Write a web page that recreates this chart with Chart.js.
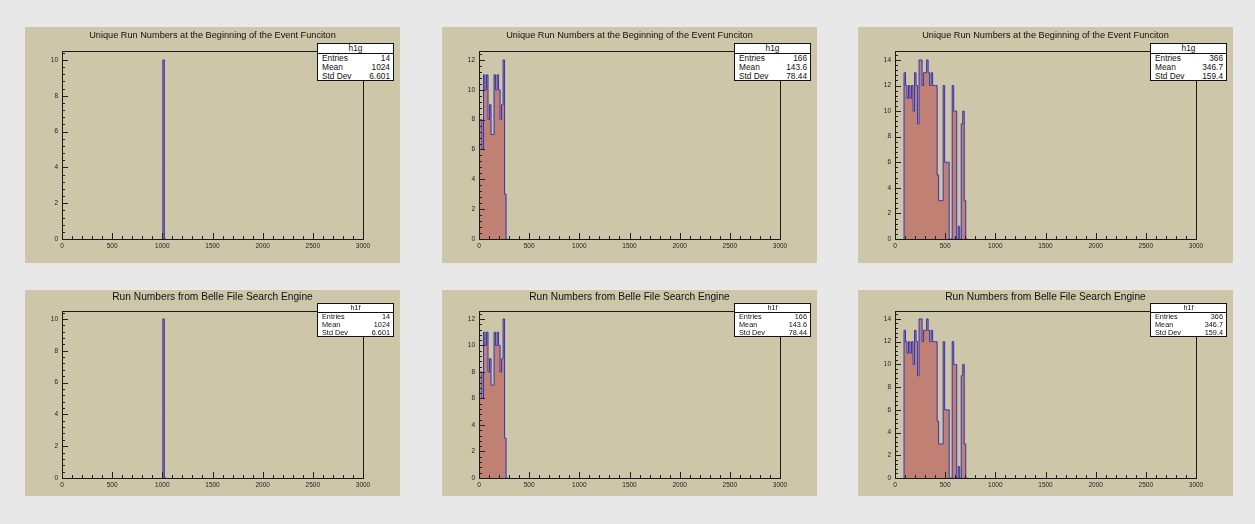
<!DOCTYPE html>
<html>
<head>
<meta charset="utf-8">
<script src="https://cdn.jsdelivr.net/npm/chart.js@4.4.0/dist/chart.umd.min.js"></script>
<style>
  body { margin: 0; width: 1255px; height: 524px; background: #e8e8e8; position: relative; overflow: hidden;
         font-family: 'Liberation Sans', Arial, sans-serif; }
  .pad { position: absolute; background: #cdc6a9; }
  .pad canvas { position: absolute; left: 0; top: 0; }
  .title { position: absolute; text-align: center; color: #111; white-space: nowrap; }
  .stats { position: absolute; background: #fff; border: 1px solid #111; box-sizing: border-box; color: #111; overflow: hidden; }
  .stats .head { text-align: center; border-bottom: 1px solid #111; }
  .stats .row { display: flex; justify-content: space-between; padding: 0 3px 0 4px; }
</style>
</head>
<body>
<script>
// Histogram data, bins of 15 run numbers on 0..3000

const binWidth = 15;
const xMin = 0;
const xMax = 3000;
const xTickStep = 500;
const yTickStep = 2;

// first bin index and bin contents for each column
const runs1Start = 67;
const runs1Counts = [4, 10];

const runs2Start = 0;
const runs2Counts = [7, 8, 8, 6, 11, 10, 11, 8, 9, 7, 7, 11, 10, 11, 10, 8, 9, 12, 3];

const runs3Start = 6;
const runs3Counts = [3, 13, 12, 11, 12, 11, 12, 10, 13, 12, 9, 14, 14, 12, 13, 13, 14, 13, 12, 13, 12,
  12, 12, 5, 3, 3, 3, 12, 6, 6, 6, 0, 0, 12, 10, 10, 0, 1, 0, 9, 10, 3];

const yMaxes = [10.5, 12.6, 14.7];

// stats box texts
const statEntries = ['14', '166', '366'];
const statMeans = ['1024', '143.6', '346.7'];
const statStdDevs = ['6.601', '78.44', '159.4'];

const rowTitles = ['Unique Run Numbers at the Beginning of the Event Funciton', 'Run Numbers from Belle File Search Engine'];
const rowHistNames = ['h1g', 'h1f'];

const columns = [
  { start: runs1Start, counts: runs1Counts },
  { start: runs2Start, counts: runs2Counts },
  { start: runs3Start, counts: runs3Counts },
];

// panel layout
const padLefts = [25, 442, 858];
const padWidth = 375;
const rowsLayout = [
  { top: 27, height: 236, plotTop: 24, plotHeight: 188, titleSize: 9.2, titleTop: 3, statTop: 16, statHeight: 38, statFont: 8.3, statHead: 9, statLine: 9 },
  { top: 290, height: 206, plotTop: 21, plotHeight: 167, titleSize: 10.2, titleTop: 1, statTop: 13, statHeight: 34, statFont: 7.3, statHead: 8, statLine: 8.2 },
];
const plotLeft = 37;
const plotWidth = 301;

// turn bin contents into step points for a stepped line
function histPoints(start, counts) {
  let points = [{ x: start * binWidth, y: 0 }];
  counts.forEach(function(c, i) {
    points.push({ x: (start + i) * binWidth, y: c });
  });
  points.push({ x: (start + counts.length) * binWidth, y: 0 });
  return points;
}

// ROOT style inward ticks and frame
const rootAxes = {
  id: 'rootAxes',
  afterDatasetsDraw(chart) {
    const ctx = chart.ctx;
    const a = chart.chartArea;
    const x = chart.scales.x;
    const y = chart.scales.y;
    ctx.save();
    ctx.strokeStyle = '#222';
    ctx.lineWidth = 1;
    ctx.beginPath();
    for (let v = xMin; v <= xMax; v += 100) {
      const px = Math.round(x.getPixelForValue(v)) + 0.5;
      const len = v % xTickStep === 0 ? 6 : 3;
      ctx.moveTo(px, a.bottom);
      ctx.lineTo(px, a.bottom - len);
    }
    for (let k = 0; k * 0.4 <= y.max; k++) {
      const py = Math.round(y.getPixelForValue(k * 0.4)) + 0.5;
      const len = k % 5 === 0 ? 6 : 3;
      ctx.moveTo(a.left, py);
      ctx.lineTo(a.left + len, py);
    }
    ctx.stroke();
    ctx.strokeStyle = '#1a1a1a';
    ctx.strokeRect(Math.round(a.left) + 0.5, Math.round(a.top) + 0.5, Math.round(a.right - a.left), Math.round(a.bottom - a.top));
    ctx.restore();
  }
};

function makePanel(row, col) {
  const r = rowsLayout[row];
  const c = columns[col];

  let pad = document.createElement('div');
  pad.className = 'pad';
  pad.style.left = padLefts[col] + 'px';
  pad.style.top = r.top + 'px';
  pad.style.width = padWidth + 'px';
  pad.style.height = r.height + 'px';
  document.body.appendChild(pad);

  let canvas = document.createElement('canvas');
  canvas.width = padWidth;
  canvas.height = r.height;
  pad.appendChild(canvas);

  let title = document.createElement('div');
  title.className = 'title';
  title.style.left = plotLeft + 'px';
  title.style.width = plotWidth + 'px';
  title.style.top = r.titleTop + 'px';
  title.style.fontSize = r.titleSize + 'px';
  title.textContent = rowTitles[row];
  pad.appendChild(title);

  let stats = document.createElement('div');
  stats.className = 'stats';
  stats.style.left = '292px';
  stats.style.top = r.statTop + 'px';
  stats.style.width = '77px';
  stats.style.height = r.statHeight + 'px';
  stats.style.fontSize = r.statFont + 'px';
  stats.style.lineHeight = r.statLine + 'px';
  stats.innerHTML = '<div class="head" style="line-height:' + r.statHead + 'px">' + rowHistNames[row] + '</div>' +
    '<div class="row"><span>Entries</span><span>' + statEntries[col] + '</span></div>' +
    '<div class="row"><span>Mean</span><span>' + statMeans[col] + '</span></div>' +
    '<div class="row"><span>Std Dev</span><span>' + statStdDevs[col] + '</span></div>';
  pad.appendChild(stats);

  new Chart(canvas, {
    type: 'line',
    data: {
      datasets: [{
        data: histPoints(c.start, c.counts),
        stepped: 'after',
        fill: 'origin',
        backgroundColor: 'rgb(192, 128, 116)',
        borderColor: 'rgb(52, 52, 176)',
        borderWidth: 1,
        pointRadius: 0,
      }],
    },
    options: {
      responsive: false,
      animation: false,
      devicePixelRatio: 1,
      layout: { padding: { left: 0, top: r.plotTop, right: padWidth - plotLeft - plotWidth, bottom: 0 } },
      plugins: { legend: { display: false }, tooltip: { enabled: false } },
      scales: {
        x: {
          type: 'linear',
          min: xMin,
          max: xMax,
          grid: { display: false, drawTicks: false },
          border: { display: false },
          ticks: {
            stepSize: xTickStep, padding: 3, maxRotation: 0, color: '#222',
            font: { family: 'Liberation Sans', size: 6.5 },
            callback: function(value) { return String(value); },
          },
          afterFit: function(scale) { scale.height = r.height - r.plotTop - r.plotHeight; },
        },
        y: {
          min: 0,
          max: yMaxes[col],
          grid: { display: false, drawTicks: false },
          border: { display: false },
          ticks: {
            stepSize: yTickStep, includeBounds: false, padding: 4, color: '#222',
            font: { family: 'Liberation Sans', size: 6.5 },
            callback: function(value) { return String(value); },
          },
          afterFit: function(scale) { scale.width = plotLeft; },
        },
      },
    },
    plugins: [rootAxes],
  });
}

for (let row = 0; row < 2; row++) {
  for (let col = 0; col < 3; col++) {
    makePanel(row, col);
  }
}
</script>
</body>
</html>
